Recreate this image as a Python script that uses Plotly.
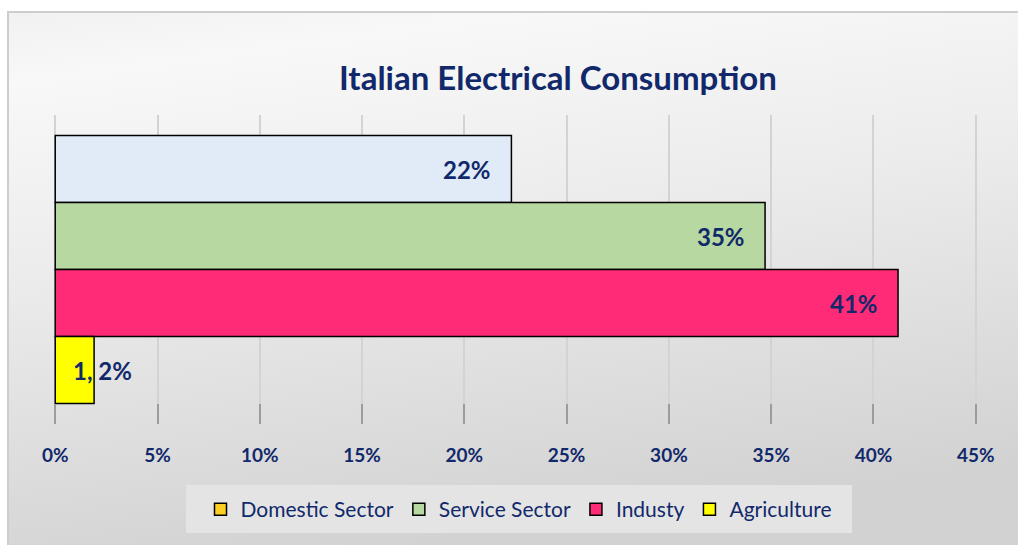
import base64
import plotly.graph_objects as go

# ---- data ----
sectors = ["Domestic Sector", "Service Sector", "Industy", "Agriculture"]
shares = [22.3, 34.7, 41.2, 1.9]          # bar lengths (%)
labels = ["22%", "35%", "41%", "1, 2%"]   # data labels as printed
tick_values = [0, 5, 10, 15, 20, 25, 30, 35, 40, 45]
tick_labels = ["0%", "5%", "10%", "15%", "20%", "25%", "30%", "35%", "40%", "45%"]

# ---- styles ----
bar_colors = ["#e1ebf7", "#b8d8a1", "#ff2b76", "#ffff00"]
legend_colors = ["#fccf22", "#b8d8a1", "#ff2b76", "#ffff00"]
label_shift = [-18, -18, -18, 40]
NAVY = "#11296b"
W, H = 1018, 545
ML, MR, MT, MB = 54, 41, 115, 121

fig = go.Figure()
n = len(sectors)
for i, (name, val) in enumerate(zip(sectors, shares)):
    pos = n - 1 - i
    same = bar_colors[i] == legend_colors[i]
    fig.add_trace(go.Bar(
        x=[val], y=[pos], orientation="h", width=1, name=name,
        marker=dict(color=bar_colors[i], line=dict(color="black", width=1.5)),
        showlegend=same, legendrank=i + 1, hoverinfo="x+name",
    ))
    if not same:
        fig.add_trace(go.Bar(
            x=[None], y=[None], orientation="h", name=name,
            marker=dict(color=legend_colors[i], line=dict(color="black", width=1.5)),
            showlegend=True, legendrank=i + 1,
        ))
    fig.add_annotation(
        x=val, y=pos, text=labels[i], showarrow=False, xanchor="right",
        xshift=label_shift[i], font=dict(family="Lato", size=24, color=NAVY, weight="bold"),
    )

# background (gradient chart area + legend box) as an inline SVG image
svg = f'''<svg xmlns="http://www.w3.org/2000/svg" width="{W}" height="{H}" viewBox="0 0 {W} {H}">
<defs><linearGradient id="g" x1="0" y1="0" x2="0.25" y2="1">
<stop offset="0" stop-color="#f1f1f1"/><stop offset="0.12" stop-color="#f8f8f8"/>
<stop offset="0.45" stop-color="#ececec"/><stop offset="1" stop-color="#d2d2d2"/></linearGradient></defs>
<rect x="0" y="0" width="{W}" height="{H}" fill="#ffffff"/>
<rect x="8" y="12" width="{W + 10}" height="{H + 10}" fill="url(#g)" stroke="#cdcdcd" stroke-width="2"/>
<rect x="186" y="485" width="666" height="48" fill="#e4e4e4"/>
</svg>'''
src = "data:image/svg+xml;base64," + base64.b64encode(svg.encode()).decode()
pw, ph = W - ML - MR, H - MT - MB
fig.add_layout_image(dict(
    source=src, xref="paper", yref="paper", x=-ML / pw, y=1 + MT / ph,
    sizex=W / pw, sizey=H / ph, xanchor="left", yanchor="top",
    sizing="stretch", layer="below",
))

fig.update_layout(
    width=W, height=H, margin=dict(l=ML, r=MR, t=MT, b=MB),
    paper_bgcolor="white", plot_bgcolor="rgba(0,0,0,0)",
    title=dict(text="Italian Electrical Consumption", x=558 / W, xanchor="center",
               y=1 - 78 / H, yanchor="middle",
               font=dict(family="Lato", size=33, color=NAVY, weight="bold")),
    barmode="overlay",
    xaxis=dict(range=[-0.06, 45.06], tickvals=tick_values, ticktext=tick_labels,
               showgrid=True, gridcolor="#d3d3d3", gridwidth=1.5, zeroline=False,
               showline=False, ticks="inside", ticklen=20, tickwidth=2, tickcolor="#9c9c9c",
               ticklabelstandoff=18,
               tickfont=dict(family="Lato", size=19, color=NAVY, weight="bold")),
    yaxis=dict(range=[-0.806, n - 1 + 0.806], visible=False),
    legend=dict(orientation="h", x=519 / W, xanchor="center", xref="container",
                y=1 - 489 / H, yanchor="top", yref="container",
                bgcolor="rgba(0,0,0,0)", font=dict(family="Lato", size=21, color=NAVY),
                itemwidth=30),
    showlegend=True,
)

fig.write_html("out.html")
